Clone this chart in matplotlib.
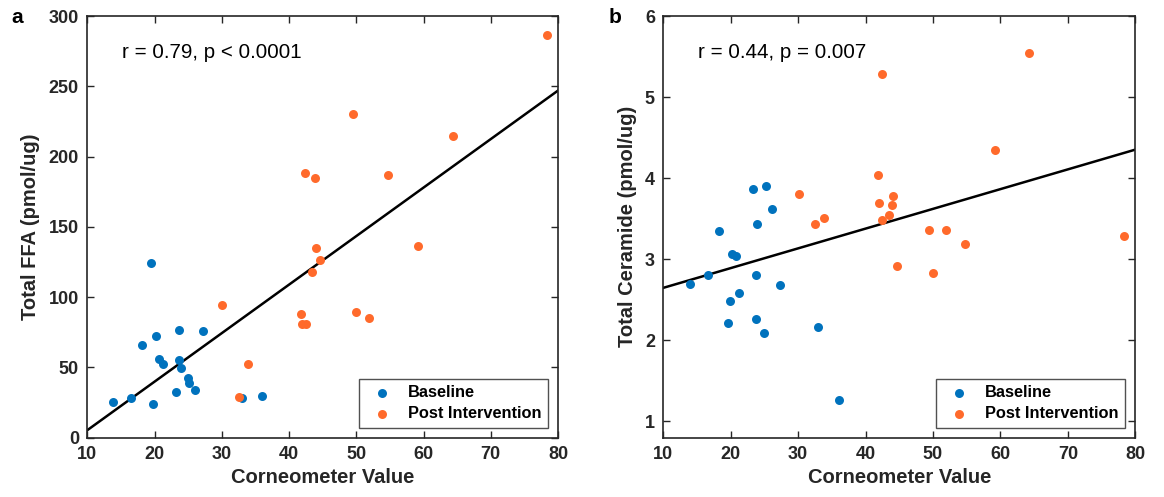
import numpy as np
import matplotlib
matplotlib.use("Agg")
import matplotlib.pyplot as plt

plt.rcParams['font.family'] = ['Liberation Sans', 'DejaVu Sans']

# Panel a: Total FFA
a_base_x = [13.87, 16.45, 19.47, 19.73, 18.09, 20.17, 23.68, 27.25, 20.62, 21.21,
            23.68, 23.89, 24.93, 25.12, 26.06, 23.15, 32.96, 36.03]
a_base_y = [25.2, 28.0, 124.5, 23.7, 66.1, 72.0, 76.5, 75.7, 56.1, 52.5,
            55.4, 49.4, 42.5, 38.7, 33.5, 32.1, 28.0, 29.2]
a_post_x = [30.08, 33.90, 32.52, 41.74, 41.98, 42.53, 43.37, 44.01, 44.65, 49.96,
            51.94, 78.41, 49.47, 64.34, 42.38, 43.86, 54.72, 59.18]
a_post_y = [94.3, 52.2, 28.5, 88.1, 81.0, 81.0, 117.8, 134.9, 126.1, 89.3,
            85.0, 286.5, 230.2, 214.5, 188.1, 184.8, 186.7, 136.3]

# Panel b: Total Ceramide
b_base_x = [14.00, 16.58, 18.22, 20.19, 20.78, 23.26, 25.23, 26.16, 23.94, 23.79,
            27.35, 19.85, 21.27, 19.64, 23.79, 24.98, 32.94, 36.10]
b_base_y = [2.69, 2.81, 3.35, 3.07, 3.04, 3.87, 3.90, 3.62, 3.43, 2.80,
            2.68, 2.49, 2.58, 2.21, 2.26, 2.09, 2.16, 1.26]
b_post_x = [30.12, 32.50, 33.88, 41.80, 41.99, 44.02, 43.92, 43.43, 42.48, 44.70,
            64.28, 42.48, 59.15, 49.45, 51.88, 54.70, 49.95, 78.32]
b_post_y = [3.81, 3.43, 3.51, 4.04, 3.69, 3.78, 3.67, 3.54, 3.48, 2.91,
            5.54, 5.28, 4.35, 3.36, 3.36, 3.19, 2.83, 3.28]

xticks = [10, 20, 30, 40, 50, 60, 70, 80]
a_yticks = [0, 50, 100, 150, 200, 250, 300]
b_yticks = [1, 2, 3, 4, 5, 6]

BLUE = '#0072BD'
ORANGE = '#FF6A2B'
SPINE = '#262626'

fig = plt.figure(figsize=(11.64, 4.97), dpi=100)
axA = fig.add_axes([0.0750, 0.1197, 0.4044, 0.8481])
axB = fig.add_axes([0.5698, 0.1197, 0.4055, 0.8481])


def panel(ax, bx, by, px, py, ylim, yticks, ylabel, annot, letter, letter_x):
    ax.scatter(bx, by, s=42, color=BLUE, label='Baseline', zorder=3, linewidths=0)
    ax.scatter(px, py, s=42, color=ORANGE, label='Post Intervention', zorder=3, linewidths=0)
    allx = np.array(bx + px)
    ally = np.array(by + py)
    k, c = np.polyfit(allx, ally, 1)
    xs = np.array([10, 80])
    ax.plot(xs, k * xs + c, color='black', lw=1.8, zorder=2)
    ax.set_xlim(10, 80)
    ax.set_ylim(*ylim)
    ax.set_xticks(xticks)
    ax.set_yticks(yticks)
    ax.tick_params(direction='in', top=True, right=True, length=5, width=1,
                   color=SPINE, labelsize=13, pad=6)
    for lab in ax.get_xticklabels() + ax.get_yticklabels():
        lab.set_fontweight('bold')
        lab.set_color('#262626')
    for sp in ax.spines.values():
        sp.set_color(SPINE)
        sp.set_linewidth(1.2)
    ax.set_xlabel('Corneometer Value', fontsize=14.5, fontweight='bold', color='#262626', labelpad=4)
    ax.set_ylabel(ylabel, fontsize=14.5, fontweight='bold', color='#262626', labelpad=6)
    ax.text(0.074, 0.914, annot, transform=ax.transAxes, fontsize=14.8, va='center', ha='left')
    leg = ax.legend(loc='lower right', frameon=True, fancybox=False,
                    edgecolor='#262626', borderaxespad=0.6, handletextpad=0.6,
                    borderpad=0.4, labelspacing=0.35, markerscale=1.0,
                    prop={'weight': 'bold', 'size': 11.8})
    leg.get_frame().set_linewidth(1.0)
    fig.text(letter_x, 0.965, letter, fontsize=15, fontweight='bold', va='center', ha='left')


panel(axA, a_base_x, a_base_y, a_post_x, a_post_y, (0, 300), a_yticks,
      'Total FFA (pmol/ug)', 'r = 0.79, p < 0.0001', 'a', 0.010)
panel(axB, b_base_x, b_base_y, b_post_x, b_post_y, (0.8, 6), b_yticks,
      'Total Ceramide (pmol/ug)', 'r = 0.44, p = 0.007', 'b', 0.523)

fig.savefig('out.png', dpi=100)
